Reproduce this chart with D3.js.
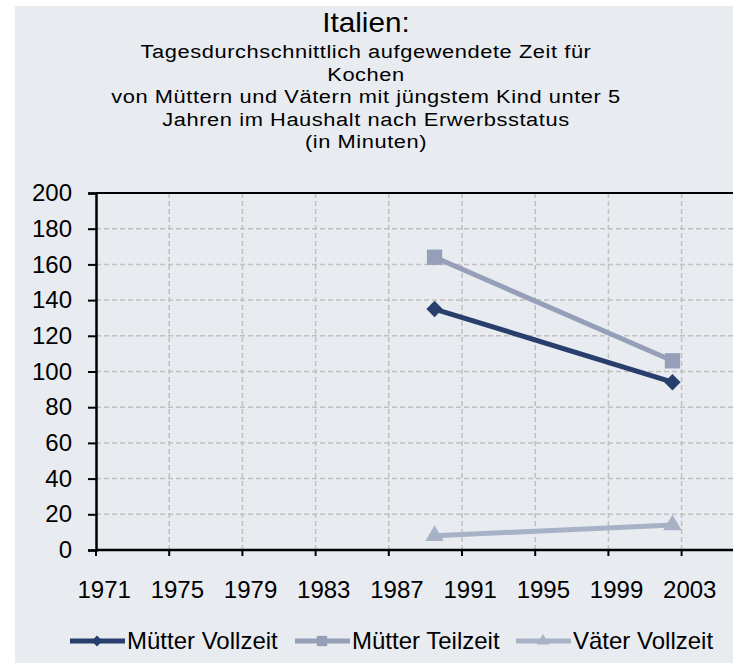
<!DOCTYPE html>
<html>
<head>
<meta charset="utf-8">
<script src="https://cdn.jsdelivr.net/npm/d3@7"></script>
<style>
  body { margin: 0; background: #fff; }
  text { font-family: "Liberation Sans", Arial, sans-serif; fill: #000; }
</style>
</head>
<body>
<div id="chart"></div>
<script>
// data
const years = [1989, 2002];
const muetterVollzeit = [135, 94];
const muetterTeilzeit = [164, 106];
const vaeterVollzeit = [8, 14];
const seriesNames = ["Mütter Vollzeit", "Mütter Teilzeit", "Väter Vollzeit"];
const tickYears = [1971, 1975, 1979, 1983, 1987, 1991, 1995, 1999, 2003];
const yTicks = [0, 20, 40, 60, 80, 100, 120, 140, 160, 180, 200];
const titleLines = [
    "Tagesdurchschnittlich aufgewendete Zeit für",
    "Kochen",
    "von Müttern und Vätern mit jüngstem Kind unter 5",
    "Jahren im Haushalt nach Erwerbsstatus",
    "(in Minuten)"
];

const W = 733, H = 663;
const margin = { top: 193, left: 96, bottom: 113 };
const plotH = H - margin.top - margin.bottom;

const svg = d3.select("#chart").append("svg")
    .attr("width", W).attr("height", H);

svg.append("rect").attr("x", 15).attr("y", 6)
    .attr("width", W - 15).attr("height", H - 6)
    .attr("fill", "#e8ebf0");

// title (Excel draws it a bit wide, so stretch horizontally)
svg.append("text").attr("transform", "translate(366,32) scale(1.1,1)")
    .attr("text-anchor", "middle").style("font-size", "27px").text("Italien:");
svg.append("g").selectAll("text").data(titleLines).join("text")
    .attr("transform", (d, i) => `translate(366,${58 + i * 22.5}) scale(1.15,1)`)
    .attr("text-anchor", "middle").style("font-size", "19px")
    .style("letter-spacing", "0.5px")
    .text(d => d);

const g = svg.append("g").attr("transform", `translate(${margin.left},${margin.top})`);

// x: one band per year, ticks between categories like a category axis
const allYears = d3.range(1971, 2007);
const x = d3.scaleBand().domain(allYears).range([0, allYears.length * 18.3]);
const y = d3.scaleLinear().domain([0, 200]).range([plotH, 0]);
const cx = yr => x(yr) + x.bandwidth() / 2;

// grid
g.append("g").selectAll("line").data(yTicks.filter(d => d > 0 && d < 200)).join("line")
    .attr("x1", 0).attr("x2", W).attr("y1", d => y(d)).attr("y2", d => y(d))
    .attr("stroke", "#c0c0c0").attr("stroke-width", 1.5).attr("stroke-dasharray", "5,3");
g.append("g").selectAll("line").data(tickYears.slice(1)).join("line")
    .attr("x1", d => x(d)).attr("x2", d => x(d)).attr("y1", 0).attr("y2", plotH)
    .attr("stroke", "#c0c0c0").attr("stroke-width", 1.5).attr("stroke-dasharray", "5,3");

// top border
g.append("line").attr("x1", 0).attr("x2", W).attr("y1", 0).attr("y2", 0)
    .attr("stroke", "#000").attr("stroke-width", 2);

// y axis
const yAxis = g.append("g")
    .call(d3.axisLeft(y).tickValues(yTicks).tickSize(8).tickPadding(16));
yAxis.select(".domain").attr("stroke-width", 2.5);
yAxis.selectAll(".tick line").attr("stroke-width", 2);
yAxis.selectAll("text").style("font-size", "24px").attr("font-family", null);

// x axis
const xAxis = g.append("g").attr("transform", `translate(0,${plotH})`);
xAxis.append("line").attr("x1", 0).attr("x2", W).attr("stroke", "#000").attr("stroke-width", 2.5);
xAxis.selectAll(".tk").data(tickYears).join("line").attr("class", "tk")
    .attr("x1", d => x(d)).attr("x2", d => x(d)).attr("y1", 0).attr("y2", 6)
    .attr("stroke", "#000").attr("stroke-width", 2);
xAxis.selectAll("text").data(tickYears).join("text")
    .attr("x", d => cx(d) - 1).attr("y", 48)
    .attr("text-anchor", "middle").style("font-size", "24px")
    .text(d => d);

// series
const series = [
    { name: seriesNames[0], values: muetterVollzeit, color: "#283f6d", shape: d3.symbolDiamond2, size: 170 },
    { name: seriesNames[1], values: muetterTeilzeit, color: "#95a0b8", shape: d3.symbolSquare2, size: 300 },
    { name: seriesNames[2], values: vaeterVollzeit, color: "#a8b2c6", shape: d3.symbolTriangle2, size: 240 }
];

const line = d3.line().x(d => cx(d.year)).y(d => y(d.v));
series.forEach(s => {
    const pts = years.map((yr, i) => ({ year: yr, v: s.values[i] }));
    g.append("path").datum(pts).attr("d", line)
        .attr("fill", "none").attr("stroke", s.color).attr("stroke-width", 5);
    g.selectAll(null).data(pts).join("path")
        .attr("transform", d => `translate(${cx(d.year)},${y(d.v)})`)
        .attr("d", d3.symbol().type(s.shape).size(s.size))
        .attr("fill", s.color);
});

// legend
const legendX = [70, 295, 516];
const leg = svg.append("g").attr("transform", "translate(0,641)");
series.forEach((s, i) => {
    const lg = leg.append("g").attr("transform", `translate(${legendX[i]},0)`);
    lg.append("line").attr("x1", 0).attr("x2", 55).attr("stroke", s.color).attr("stroke-width", 5);
    lg.append("path").attr("transform", "translate(27,0)")
        .attr("d", d3.symbol().type(s.shape).size(s.size * 0.45)).attr("fill", s.color);
    lg.append("text").attr("x", 57).attr("y", 8).style("font-size", "24px").text(s.name);
});
</script>
</body>
</html>
